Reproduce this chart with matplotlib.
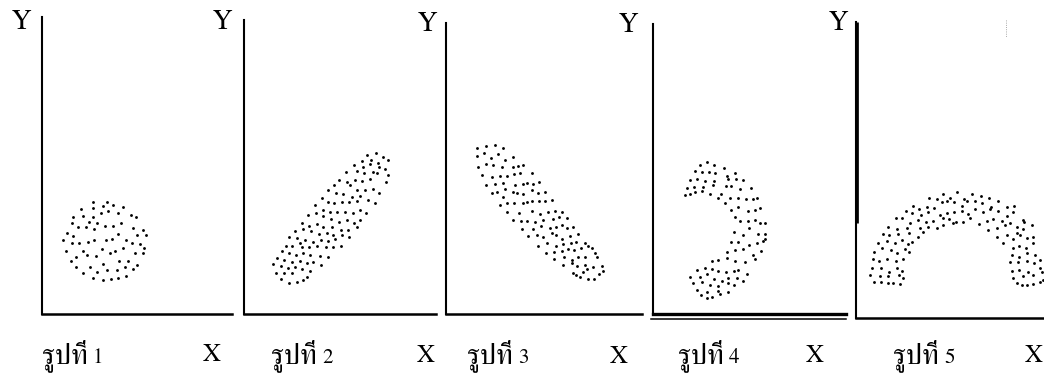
"""Five scatter diagrams showing typical point patterns (round, rising,
falling, crescent and arch shaped) with Thai captions."""

# ----------------------------------------------------------------------------
# Modules
import matplotlib
matplotlib.use('Agg')
from matplotlib import pyplot as plt
from matplotlib.lines import Line2D

plt.rcParams['font.family'] = ['FreeSerif', 'DejaVu Serif']

# ----------------------------------------------------------------------------
# Data (x to the right of the Y axis, y above the X axis)

# Figure 1: round cloud
fig1_x = [51, 65, 61, 71, 81, 39, 51, 59, 66, 76, 89, 94, 31, 41, 51, 47,
          55, 71, 63, 79, 30, 36, 44, 52, 91, 101, 25, 31, 76, 95, 104, 21,
          30, 37, 46, 52, 64, 70, 84, 90, 98, 102, 24, 41, 60, 68, 73, 81,
          93, 101, 34, 45, 54, 29, 61, 77, 86, 95, 34, 48, 55, 65, 75, 83,
          91, 41, 51, 61, 69, 76, 84]
fig1_y = [112, 112, 108, 109, 107, 105, 106, 101, 103, 101, 99, 97, 97, 98,
          97, 92, 91, 88, 88, 91, 91, 87, 87, 85, 86, 84, 81, 78, 80, 79, 79,
          74, 71, 71, 72, 74, 74, 75, 74, 71, 70, 66, 63, 63, 65, 61, 63, 66,
          61, 61, 57, 59, 58, 53, 50, 53, 53, 49, 47, 47, 42, 44, 44, 47, 45,
          41, 36, 34, 35, 36, 38]

# Figure 2: rising band
fig2_x = [123, 132, 139, 118, 127, 134, 144, 110, 119, 126, 129, 135, 141,
          144, 102, 113, 120, 133, 142, 95, 103, 111, 118, 126, 90, 106, 113,
          121, 129, 135, 84, 92, 99, 108, 116, 124, 131, 78, 84, 90, 98, 105,
          113, 71, 79, 86, 93, 101, 109, 116, 122, 64, 72, 79, 87, 95, 103,
          110, 116, 58, 65, 73, 79, 88, 97, 104, 113, 51, 59, 67, 75, 83, 89,
          98, 105, 45, 53, 61, 69, 77, 84, 91, 42, 48, 56, 58, 65, 73, 82, 89,
          97, 38, 45, 52, 59, 66, 76, 84, 33, 40, 48, 56, 63, 69, 77, 29, 37,
          44, 51, 58, 66, 32, 40, 48, 63, 37, 45, 53, 59]
fig2_y = [159, 161, 157, 153, 154, 151, 154, 149, 147, 150, 142, 147, 145,
          139, 142, 143, 141, 141, 132, 134, 132, 134, 133, 135, 129, 129,
          124, 124, 125, 121, 124, 121, 120, 117, 118, 114, 111, 116, 112,
          111, 112, 112, 113, 109, 104, 102, 102, 102, 101, 104, 101, 99, 101,
          98, 95, 92, 94, 91, 94, 91, 88, 90, 87, 87, 84, 84, 87, 83, 85, 83,
          80, 81, 79, 79, 77, 77, 76, 74, 72, 74, 73, 75, 68, 68, 71, 67, 67,
          68, 67, 67, 68, 63, 61, 59, 61, 59, 58, 57, 56, 54, 52, 53, 51, 52,
          49, 50, 48, 46, 47, 45, 43, 41, 41, 41, 37, 35, 31, 32, 34]

# Figure 3: falling band
fig3_x = [31, 40, 49, 57, 31, 38, 45, 52, 59, 67, 32, 40, 47, 56, 67, 72,
          77, 36, 46, 54, 61, 68, 74, 86, 40, 49, 57, 69, 77, 81, 87, 93, 46,
          51, 59, 67, 71, 77, 86, 92, 99, 57, 54, 61, 68, 77, 81, 86, 93, 99,
          106, 61, 73, 86, 94, 102, 109, 116, 67, 75, 81, 89, 97, 107, 113,
          121, 76, 87, 95, 104, 110, 116, 121, 127, 82, 91, 97, 106, 110, 116,
          124, 132, 92, 101, 110, 117, 125, 130, 139, 100, 108, 116, 122, 128,
          135, 142, 108, 118, 126, 132, 139, 117, 126, 131, 139, 127, 137,
          141, 130, 134, 142, 146, 151, 156, 153, 148, 147, 157, 149]
fig3_y = [166, 168, 169, 166, 158, 161, 156, 160, 154, 157, 147, 150, 149,
          147, 147, 148, 149, 139, 137, 138, 138, 140, 141, 141, 129, 130,
          131, 129, 130, 131, 130, 132, 121, 122, 125, 122, 121, 120, 124,
          121, 122, 117, 109, 111, 111, 111, 112, 113, 113, 113, 114, 102,
          101, 103, 100, 102, 103, 102, 94, 93, 93, 92, 94, 95, 97, 96, 85,
          85, 88, 86, 87, 89, 86, 87, 78, 79, 77, 81, 79, 75, 78, 80, 68, 71,
          68, 70, 71, 72, 71, 61, 62, 63, 65, 64, 66, 68, 55, 57, 54, 57, 57,
          49, 51, 48, 49, 41, 42, 45, 39, 37, 35, 66, 57, 48, 40, 35, 47, 43,
          61]

# Figure 4: crescent opening to the left
fig4_x = [47, 54, 61, 71, 42, 49, 56, 62, 74, 82, 37, 44, 52, 61, 75, 83,
          90, 34, 41, 50, 60, 73, 78, 87, 98, 32, 37, 42, 49, 57, 65, 68, 77,
          85, 93, 100, 104, 72, 78, 85, 95, 102, 107, 82, 87, 95, 102, 107,
          112, 81, 90, 96, 105, 112, 112, 78, 85, 96, 104, 110, 74, 82, 90,
          100, 108, 59, 65, 74, 82, 92, 102, 44, 52, 59, 65, 73, 81, 85, 94,
          37, 47, 54, 61, 69, 75, 84, 90, 40, 49, 57, 65, 75, 81, 44, 54, 65,
          75, 48, 54, 59, 67]
fig4_y = [149, 152, 149, 146, 143, 142, 142, 141, 138, 141, 134, 135, 133,
          133, 135, 135, 134, 126, 127, 127, 129, 128, 128, 125, 126, 119,
          120, 122, 123, 120, 116, 120, 116, 116, 115, 115, 116, 111, 104,
          107, 103, 104, 106, 97, 93, 93, 94, 91, 91, 82, 79, 86, 80, 80, 75,
          72, 72, 69, 71, 73, 62, 64, 65, 59, 63, 53, 54, 56, 53, 52, 55, 44,
          46, 45, 43, 42, 43, 44, 40, 37, 37, 40, 35, 33, 36, 36, 33, 31, 32,
          29, 28, 31, 29, 24, 22, 23, 22, 19, 16, 17, 20]

# Figure 5: arch
fig5_x = [73, 81, 87, 94, 101, 108, 116, 125, 133, 57, 63, 71, 78, 86, 91,
          98, 106, 111, 119, 126, 135, 142, 151, 158, 50, 56, 65, 72, 84, 91,
          98, 106, 112, 119, 127, 134, 142, 151, 157, 167, 40, 46, 54, 62, 70,
          77, 87, 93, 100, 107, 114, 123, 131, 137, 146, 154, 161, 168, 32,
          41, 51, 64, 72, 81, 87, 97, 132, 141, 149, 161, 167, 176, 27, 33,
          42, 53, 62, 67, 141, 151, 157, 164, 171, 177, 22, 31, 39, 46, 52,
          56, 147, 157, 163, 170, 177, 18, 26, 35, 41, 49, 53, 156, 163, 171,
          179, 17, 23, 31, 40, 47, 154, 162, 171, 178, 184, 16, 25, 33, 41,
          46, 156, 163, 172, 184, 14, 24, 32, 43, 47, 157, 167, 177, 186, 18,
          25, 32, 37, 44, 161, 166, 171, 177, 184, 187]
fig5_y = [120, 119, 124, 120, 126, 119, 124, 122, 120, 112, 109, 111, 110,
          116, 117, 116, 112, 117, 117, 115, 111, 117, 111, 112, 107, 105,
          103, 106, 103, 105, 106, 107, 104, 109, 106, 109, 107, 102, 106, 98,
          100, 100, 95, 98, 96, 97, 100, 99, 96, 96, 100, 94, 97, 99, 97, 95,
          91, 96, 91, 89, 90, 90, 91, 90, 93, 95, 88, 90, 93, 85, 89, 93, 84,
          83, 84, 85, 81, 86, 81, 83, 79, 83, 80, 81, 75, 77, 75, 78, 74, 76,
          75, 70, 72, 70, 75, 66, 70, 68, 65, 69, 66, 63, 61, 65, 63, 59, 57,
          59, 57, 59, 56, 56, 57, 55, 58, 50, 50, 46, 50, 47, 47, 48, 46, 50,
          43, 42, 42, 43, 40, 40, 42, 43, 46, 36, 36, 35, 35, 34, 35, 33, 33,
          34, 36, 38]

caption_word = 'รูปที่'
caption_numbers = ['1', '2', '3', '4', '5']

# ----------------------------------------------------------------------------


def px_box(left, top, width, height, fig_w=1044, fig_h=385):
    """Turns a box in pixels (origin top left) into figure fractions."""

    return [left / fig_w, (fig_h - top - height) / fig_h,
            width / fig_w, height / fig_h]


def fig_xy(x, y, fig_w=1044, fig_h=385):
    """Turns a pixel position (origin top left) into figure fractions."""

    return x / fig_w, 1 - y / fig_h


def scatter_panel(fig, box, xs, ys, lw_left=1.5, lw_bottom=1.8):
    """Draws one L shaped frame with its dotted cloud."""

    ax = fig.add_axes(px_box(*box))
    ax.scatter(xs, ys, s=4.2, c='black', marker='o', linewidths=0)
    ax.set_xlim(0, box[2])
    ax.set_ylim(0, box[3])
    for side in ('top', 'right'):
        ax.spines[side].set_visible(False)
    ax.spines['left'].set_linewidth(lw_left)
    ax.spines['bottom'].set_linewidth(lw_bottom)
    ax.set_xticks([])
    ax.set_yticks([])
    ax.patch.set_alpha(0)

    return ax

# ----------------------------------------------------------------------------


def main():
    """Builds the five panels and saves the figure."""

    fig = plt.figure(figsize=(10.44, 3.85), dpi=100)
    renderer = fig.canvas.get_renderer()

    # left, top, width, height of each frame in pixels
    boxes = [(42, 17, 190, 297),
             (244, 20, 192, 294),
             (446, 23, 196, 291),
             (653, 24, 193, 290),
             (856, 22, 188, 296)]
    data = [(fig1_x, fig1_y), (fig2_x, fig2_y), (fig3_x, fig3_y),
            (fig4_x, fig4_y), (fig5_x, fig5_y)]

    axes = []
    for box, (xs, ys) in zip(boxes, data):
        axes.append(scatter_panel(fig, box, xs, ys))

    # figure 4 has a double base line, figure 5 a heavier upper Y axis
    axes[3].spines['bottom'].set_linewidth(2.4)
    axes[3].axhline(-5, xmin=-0.01, xmax=1.0, color='black', lw=1.1,
                    clip_on=False)
    axes[4].axvline(0, ymin=0.32, ymax=1.0, color='black', lw=3.4,
                    solid_capstyle='butt')

    # axis letters
    y_pos = [(21, 22), (222, 22), (427, 24), (628, 25), (838, 23)]
    x_pos = [(212, 355), (426, 356), (619, 357), (815, 356), (1034, 356)]
    for x, y in y_pos:
        fig.text(*fig_xy(x, y), 'Y', fontsize=20, ha='center', va='center')
    for x, y in x_pos:
        fig.text(*fig_xy(x, y), 'X', fontsize=18, ha='center', va='center')

    # captions: Thai word a little larger than the figure number
    cap_pos = [(42, 363), (271, 363), (467, 363), (678, 363), (893, 363)]
    for (x, y), number in zip(cap_pos, caption_numbers):
        word = fig.text(*fig_xy(x, y), caption_word, fontsize=21,
                        ha='left', va='baseline')
        right = word.get_window_extent(renderer).x1
        fig.text(*fig_xy(right + 5, y), number, fontsize=15, ha='left',
                 va='baseline')

    # faint scratch near the top of the last frame
    fig.add_artist(Line2D([1006 / 1044, 1006 / 1044],
                          [1 - 20 / 385, 1 - 37 / 385], color='0.55',
                          lw=0.6, linestyle=':'))

    fig.savefig('out.png', dpi=100)

    return None

# ----------------------------------------------------------------------------


if __name__ == '__main__':
    main()
